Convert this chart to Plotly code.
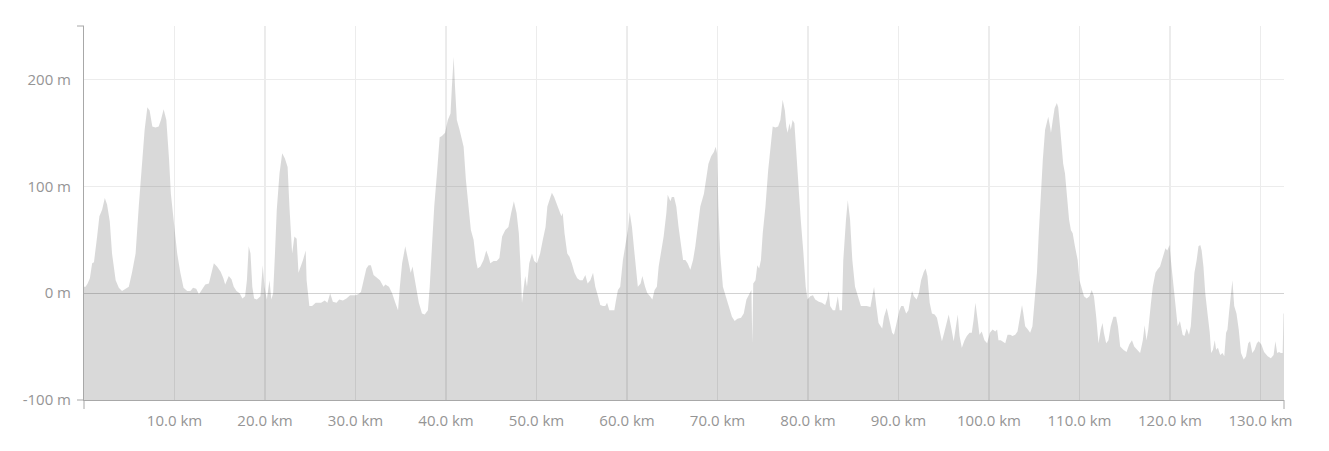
import plotly.graph_objects as go

# ---- data ----
distance_km = [
    0.0, 0.17, 0.4, 0.65, 0.9, 1.1, 1.45, 1.7, 2.0, 2.3, 2.55, 2.85, 3.1, 3.5, 3.85, 4.2, 4.6, 4.95,
    5.3, 5.7, 6.05, 6.4, 6.7, 7.0, 7.25, 7.55, 7.9, 8.25, 8.5, 8.8, 9.1, 9.4, 9.6, 9.9, 10.3, 10.65,
    11.0, 11.4, 11.75, 12.05, 12.4, 12.7, 13.05, 13.4, 13.8, 14.05, 14.35, 14.7, 15.1, 15.4, 15.6,
    16.0, 16.3, 16.55, 16.85, 17.2, 17.5, 17.8, 18.0, 18.2, 18.4, 18.6, 18.8, 19.1, 19.5, 19.75,
    19.95, 20.2, 20.5, 20.7, 20.9, 21.1, 21.3, 21.6, 21.9, 22.2, 22.5, 22.7, 23.0, 23.25, 23.5, 23.7,
    24.0, 24.2, 24.5, 24.6, 24.9, 25.2, 25.6, 25.9, 26.2, 26.6, 26.9, 27.2, 27.5, 27.9, 28.2, 28.6,
    29.0, 29.4, 30.0, 30.3, 30.6, 30.9, 31.2, 31.45, 31.7, 32.0, 32.4, 32.7, 33.1, 33.3, 33.7, 34.05,
    34.4, 34.7, 34.9, 35.15, 35.5, 35.9, 36.1, 36.3, 36.6, 37.0, 37.35, 37.65, 38.0, 38.2, 38.45,
    38.7, 39.0, 39.3, 39.55, 39.9, 40.2, 40.5, 40.65, 40.85, 41.0, 41.2, 41.5, 41.75, 41.95, 42.2,
    42.5, 42.75, 43.05, 43.3, 43.5, 43.8, 44.15, 44.45, 44.7, 44.9, 45.25, 45.6, 45.9, 46.2, 46.55,
    46.9, 47.2, 47.5, 47.8, 48.05, 48.2, 48.4, 48.6, 48.75, 48.95, 49.2, 49.5, 49.75, 50.05, 50.4,
    50.7, 51.0, 51.2, 51.45, 51.7, 51.95, 52.25, 52.55, 52.75, 52.9, 53.1, 53.4, 53.65, 53.9, 54.2,
    54.5, 54.8, 55.1, 55.4, 55.65, 55.95, 56.25, 56.5, 56.8, 57.05, 57.35, 57.6, 57.8, 58.05, 58.35,
    58.6, 58.8, 59.0, 59.25, 59.55, 59.8, 60.1, 60.3, 60.55, 60.8, 61.05, 61.2, 61.5, 61.7, 62.0,
    62.25, 62.55, 62.8, 63.05, 63.3, 63.5, 63.75, 64.05, 64.35, 64.5, 64.8, 64.95, 65.2, 65.45,
    65.7, 65.95, 66.2, 66.45, 66.7, 67.0, 67.3, 67.55, 67.8, 68.1, 68.5, 68.8, 69.0, 69.3, 69.6,
    69.8, 69.95, 70.1, 70.3, 70.6, 70.9, 71.2, 71.6, 71.9, 72.2, 72.6, 72.9, 73.2, 73.45, 73.75,
    73.85, 73.95, 74.2, 74.4, 74.6, 74.8, 75.0, 75.3, 75.6, 75.85, 76.1, 76.4, 76.7, 76.95, 77.2,
    77.45, 77.6, 77.75, 77.95, 78.1, 78.3, 78.5, 78.7, 78.95, 79.2, 79.5, 79.75, 79.95, 80.25, 80.55,
    80.8, 81.2, 81.55, 81.9, 82.1, 82.3, 82.45, 82.75, 83.0, 83.3, 83.5, 83.75, 83.9, 84.2, 84.4,
    84.65, 84.9, 85.2, 85.6, 85.85, 86.1, 86.5, 86.9, 87.05, 87.3, 87.55, 87.8, 88.2, 88.4, 88.7,
    89.0, 89.3, 89.5, 89.8, 90.1, 90.3, 90.55, 90.85, 91.1, 91.3, 91.5, 91.7, 92.0, 92.25, 92.5,
    92.8, 93.0, 93.2, 93.45, 93.7, 94.0, 94.25, 94.5, 94.8, 95.05, 95.35, 95.55, 95.8, 96.1, 96.35,
    96.55, 96.75, 97.0, 97.3, 97.55, 97.85, 98.1, 98.3, 98.5, 98.75, 98.95, 99.2, 99.5, 99.8, 100.1,
    100.4, 100.7, 100.9, 101.05, 101.3, 101.5, 101.8, 102.05, 102.35, 102.6, 102.9, 103.15, 103.4,
    103.65, 103.8, 104.0, 104.3, 104.55, 104.8, 105.05, 105.3, 105.5, 105.7, 105.95, 106.2, 106.4,
    106.55, 106.75, 106.85, 107.05, 107.25, 107.5, 107.65, 107.85, 108.05, 108.2, 108.4, 108.65,
    108.85, 109.05, 109.25, 109.5, 109.8, 110.0, 110.25, 110.5, 110.8, 111.1, 111.35, 111.6, 111.85,
    112.1, 112.35, 112.55, 112.7, 112.95, 113.2, 113.45, 113.75, 114.05, 114.25, 114.5, 114.85,
    115.2, 115.5, 115.8, 116.05, 116.4, 116.7, 117.0, 117.2, 117.4, 117.6, 117.9, 118.1, 118.4,
    118.6, 118.9, 119.2, 119.5, 119.7, 119.95, 120.1, 120.4, 120.6, 120.85, 121.1, 121.4, 121.6,
    121.85, 122.1, 122.3, 122.5, 122.7, 122.95, 123.15, 123.35, 123.5, 123.7, 123.9, 124.15, 124.4,
    124.55, 124.75, 124.95, 125.1, 125.3, 125.55, 125.8, 126.0, 126.2, 126.35, 126.55, 126.75,
    126.9, 127.1, 127.35, 127.6, 127.85, 128.15, 128.4, 128.65, 128.85, 129.1, 129.35, 129.6, 129.8,
    130.1, 130.4, 130.8, 131.15, 131.45, 131.65, 131.85, 132.05, 132.25, 132.45, 132.55, 132.6,
]

elevation_m = [
    6, 6, 9, 14, 28, 29, 53, 72, 78, 89, 83, 67, 37, 12, 5, 2, 4, 6,
    19, 37, 81, 125, 153, 174, 171, 156, 155, 156, 162, 172, 162, 125, 93, 69, 37, 19,
    5, 2, 2, 5, 4, -1, 3, 8, 9, 19, 28, 25, 20, 14, 8,
    16, 13, 6, 2, 0, -5, -3, 12, 44, 37, 6, -5, -6, -3, 26,
    6, -6, 12, -6, 0, 37, 78, 112, 131, 126, 118, 81, 37, 53, 51, 19,
    26, 31, 40, 12, -12, -12, -9, -9, -9, -7, -9, 0, -8, -9, -6, -7,
    -5, -2, -2, -1, 1, 12, 23, 26, 26, 17, 14, 12, 6, 8, 6, 0,
    -9, -16, 6, 28, 44, 28, 19, 25, 9, -9, -19, -20, -16, 6, 44,
    81, 112, 146, 147, 150, 162, 168, 193, 221, 193, 162, 153, 145, 137, 106,
    78, 59, 50, 31, 23, 25, 31, 40, 34, 28, 30, 30, 33, 53, 59,
    62, 75, 86, 75, 56, 31, -9, 6, 16, 6, 28, 37, 30, 28, 37,
    50, 62, 81, 87, 94, 90, 83, 78, 72, 75, 56, 37, 34, 28, 19,
    14, 12, 12, 17, 9, 12, 19, 6, -3, -11, -12, -12, -9, -16, -16,
    -16, -6, 3, 6, 31, 44, 59, 76, 62, 40, 19, 6, 9, 16, 6,
    0, -3, -6, 3, 6, 25, 37, 53, 75, 92, 86, 90, 90, 81,
    62, 44, 31, 31, 28, 22, 31, 44, 62, 81, 93, 109, 121, 128, 132,
    137, 131, 81, 37, 6, -3, -12, -22, -26, -24, -23, -19, -6, -2, 3,
    -47, 9, 12, 26, 23, 31, 56, 81, 115, 137, 156, 155, 156, 162, 181,
    171, 156, 150, 159, 153, 162, 159, 131, 93, 69, 37, 6, -6, -3, -2,
    -6, -8, -9, -11, -6, 2, -12, -16, -16, -3, -16, -16, 31, 69, 87,
    69, 31, 6, -6, -12, -12, -12, -13, -6, 6, -12, -28, -33, -22, -14,
    -25, -37, -39, -28, -16, -12, -12, -19, -16, -6, 2, -3, -6, 0, 12,
    20, 23, 16, -9, -19, -20, -23, -34, -45, -37, -25, -20, -31, -45, -31,
    -20, -40, -51, -44, -40, -37, -37, -25, -9, -25, -39, -36, -44, -47, -37,
    -34, -36, -34, -44, -44, -45, -47, -39, -39, -40, -39, -36, -25,
    -11, -19, -31, -34, -37, -31, -9, 19, 56, 90, 125, 153, 162,
    165, 156, 150, 162, 173, 178, 174, 156, 137, 121, 112, 87,
    69, 59, 56, 44, 31, 12, 3, -3, -5, -3, 3, -3, -22,
    -47, -34, -28, -37, -47, -44, -31, -22, -22, -31, -50, -53,
    -55, -48, -44, -50, -53, -56, -44, -30, -44, -34, -9, 6, 19,
    22, 25, 34, 42, 40, 45, 31, 6, -12, -31, -26, -39, -40,
    -33, -39, -31, -6, 19, 31, 44, 45, 40, 25, 0, -19, -37,
    -56, -53, -44, -53, -51, -58, -56, -59, -37, -34, -16, -3,
    12, -12, -19, -34, -56, -62, -59, -47, -45, -56, -53, -47, -45,
    -48, -55, -59, -61, -58, -45, -56, -55, -56, -56, -19, -19,
]

x_tick_values = [10, 20, 30, 40, 50, 60, 70, 80, 90, 100, 110, 120, 130]
x_tick_labels = [f"{v:.1f} km" for v in x_tick_values]
y_tick_values = [-100, 0, 100, 200]
y_tick_labels = [f"{v} m" for v in y_tick_values]
major_grid_km = [20, 40, 60, 80, 100, 120]

Y_MIN, Y_MAX = -100, 250
X_MAX = distance_km[-1]

FONT = "Open Sans, Segoe UI, sans-serif"
TEXT_COLOR = "#959595"
AXIS_COLOR = "#a8a8a8"

fig = go.Figure()
# baseline at the bottom of the axis so the area fills down to it
fig.add_trace(go.Scatter(
    x=distance_km, y=[Y_MIN] * len(distance_km), mode="lines",
    line=dict(width=0), hoverinfo="skip", showlegend=False,
))
fig.add_trace(go.Scatter(
    x=distance_km, y=elevation_m, mode="lines", fill="tonexty",
    fillcolor="rgba(0,0,0,0.15)", line=dict(width=0, color="rgba(0,0,0,0)"),
    showlegend=False,
))

shapes = []
for v in major_grid_km:
    shapes.append(dict(type="line", xref="x", yref="paper", x0=v, x1=v, y0=0, y1=1,
                       line=dict(color="#d6d6d6", width=1), layer="below"))
# end ticks of the axes
tick_px = 7
plot_w, plot_h = 1200, 374
shapes += [
    dict(type="line", xref="paper", yref="paper", x0=-tick_px / plot_w, x1=0, y0=1, y1=1,
         line=dict(color=AXIS_COLOR, width=1)),
    dict(type="line", xref="paper", yref="paper", x0=-tick_px / plot_w, x1=0, y0=0, y1=0,
         line=dict(color=AXIS_COLOR, width=1)),
    dict(type="line", xref="paper", yref="paper", x0=0, x1=0, y0=0, y1=-9 / plot_h,
         line=dict(color=AXIS_COLOR, width=1)),
    dict(type="line", xref="paper", yref="paper", x0=1, x1=1, y0=0, y1=-9 / plot_h,
         line=dict(color=AXIS_COLOR, width=1)),
]

fig.update_layout(
    width=1329, height=451,
    margin=dict(l=76, r=53, t=18, b=59),
    paper_bgcolor="white", plot_bgcolor="white",
    font=dict(family=FONT, size=15, color=TEXT_COLOR),
    shapes=shapes,
    showlegend=False,
    xaxis=dict(
        range=[0, X_MAX], tickvals=x_tick_values, ticktext=x_tick_labels,
        showgrid=True, gridcolor="#ececec", gridwidth=1,
        zeroline=False, showline=True, linecolor=AXIS_COLOR, linewidth=1,
        ticks="", ticklabelstandoff=7, fixedrange=True, automargin=False,
    ),
    yaxis=dict(
        range=[Y_MIN, Y_MAX], tickvals=y_tick_values, ticktext=y_tick_labels,
        showgrid=True, gridcolor="#ececec", gridwidth=1,
        zeroline=True, zerolinecolor="#d2d2d2", zerolinewidth=1,
        showline=True, linecolor=AXIS_COLOR, linewidth=1,
        ticks="", ticklabelstandoff=9, fixedrange=True, automargin=False,
    ),
)

fig.write_html("out.html")
